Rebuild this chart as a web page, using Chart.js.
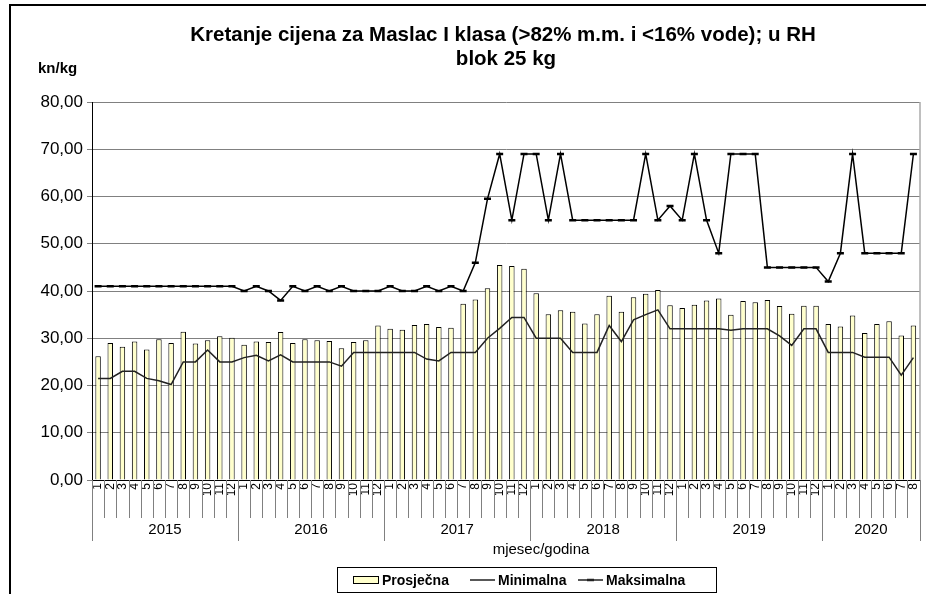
<!DOCTYPE html>
<html>
<head>
<meta charset="utf-8">
<script src="https://cdn.jsdelivr.net/npm/chart.js@4.4.1/dist/chart.umd.min.js"></script>
<style>
  html, body { margin: 0; padding: 0; background: #fff; }
  #wrap { width: 926px; height: 594px; }
</style>
</head>
<body>
<div id="wrap"><canvas id="grafico" width="926" height="594"></canvas></div>
<script>
// podaci ocitani s grafikona (kn/kg)
const godine = ["2015", "2016", "2017", "2018", "2019", "2020"];
const mjeseciPoGodini = [12, 12, 12, 12, 12, 8];

const prosjecna = [
  26.2, 29.0, 28.2, 29.3, 27.6, 29.8, 29.0, 31.4, 28.9, 29.6, 30.4, 30.1,
  28.6, 29.3, 29.2, 31.3, 29.0, 29.8, 29.6, 29.4, 27.9, 29.2, 29.6, 32.7,
  32.0, 31.8, 32.8, 33.0, 32.4, 32.2, 37.3, 38.2, 40.6, 45.5, 45.3, 44.7,
  39.5, 35.1, 35.9, 35.6, 33.1, 35.1, 39.0, 35.6, 38.7, 39.4, 40.2, 37.0,
  36.4, 37.1, 38.0, 38.4, 35.0, 37.9, 37.6, 38.1, 36.8, 35.2, 36.9, 36.9,
  33.0, 32.5, 34.8, 31.1, 33.0, 33.6, 30.6, 32.7
];

const minimalna = [
  21.5, 21.5, 23, 23, 21.5, 21, 20.2, 25, 25, 27.5, 25, 25,
  25.9, 26.4, 25.2, 26.5, 25, 25, 25, 25, 24.1, 27, 27, 27,
  27, 27, 27, 25.6, 25.2, 27, 27, 27, 30, 32.1, 34.4, 34.4,
  30, 30, 30, 27, 27, 27, 32.7, 29.3, 33.9, 35, 36, 32,
  32, 32, 32, 32, 31.7, 32, 32, 32, 30.5, 28.5, 32, 32,
  27, 27, 27, 26, 26, 26, 22.2, 25.9
];

const maksimalna = [
  41, 41, 41, 41, 41, 41, 41, 41, 41, 41, 41, 41,
  40, 41, 40, 38, 41, 40, 41, 40, 41, 40, 40, 40,
  41, 40, 40, 41, 40, 41, 40, 46, 59.5, 69, 55, 69,
  69, 55, 69, 55, 55, 55, 55, 55, 55, 69, 55, 58,
  55, 69, 55, 48, 69, 69, 69, 45, 45, 45, 45, 45,
  42, 48, 69, 48, 48, 48, 48, 69
];

// oznake mjeseci 1..12 za svaku godinu
const mjeseci = [];
mjeseciPoGodini.forEach((n) => {
  for (let m = 1; m <= n; m++) mjeseci.push(String(m));
});

const FONT = '"Liberation Sans", Arial, sans-serif';

const okvirPlugin = {
  id: "okvir",
  afterDraw(chart) {
    const ctx = chart.ctx;
    const xs = chart.scales.x;
    const area = chart.chartArea;
    const n = mjeseci.length;

    ctx.save();

    // desni rub podrucja crtanja
    ctx.strokeStyle = "#808080";
    ctx.lineWidth = 1;
    ctx.beginPath();
    ctx.moveTo(area.right + 0.5, area.top);
    ctx.lineTo(area.right + 0.5, area.bottom);
    ctx.stroke();

    // razdjelnice mjeseci i godina ispod osi
    const granica = (b) => {
      if (b === 0) return area.left;
      if (b === n) return area.right;
      return (xs.getPixelForValue(b - 1) + xs.getPixelForValue(b)) / 2;
    };
    const pocetciGodina = [0];
    mjeseciPoGodini.forEach((m, i) => pocetciGodina.push(pocetciGodina[i] + m));

    ctx.strokeStyle = "#808080";
    for (let b = 0; b <= n; b++) {
      const xb = Math.round(granica(b)) + 0.5;
      const dugacka = pocetciGodina.includes(b);
      ctx.beginPath();
      ctx.moveTo(xb, area.bottom);
      ctx.lineTo(xb, dugacka ? 541 : 518);
      ctx.stroke();
    }

    // godine
    ctx.fillStyle = "#000";
    ctx.font = "15px " + FONT;
    ctx.textAlign = "center";
    ctx.textBaseline = "middle";
    godine.forEach((g, i) => {
      const a = pocetciGodina[i];
      const z = pocetciGodina[i + 1] - 1;
      const cx = (xs.getPixelForValue(a) + xs.getPixelForValue(z)) / 2;
      ctx.fillText(g, cx, 530);
    });

    // naslov osi x
    ctx.fillText("mjesec/godina", 541, 550);

    // naslov
    ctx.font = "bold 20.5px " + FONT;
    ctx.fillText("Kretanje cijena za Maslac I klasa (>82% m.m. i <16% vode); u RH", 503, 35);
    ctx.fillText("blok 25 kg", 506, 59);

    // jedinica
    ctx.font = "bold 15px " + FONT;
    ctx.textAlign = "left";
    ctx.fillText("kn/kg", 38, 69);

    // legenda
    ctx.strokeStyle = "#000";
    ctx.lineWidth = 1;
    ctx.strokeRect(337.5, 567.5, 379, 25);
    ctx.fillStyle = "#FFFFCC";
    ctx.fillRect(353.5, 576.5, 25, 7);
    ctx.strokeRect(353.5, 576.5, 25, 7);

    ctx.strokeStyle = "#222";
    ctx.lineWidth = 1.5;
    ctx.beginPath();
    ctx.moveTo(470, 580);
    ctx.lineTo(495, 580);
    ctx.moveTo(578, 580);
    ctx.lineTo(603, 580);
    ctx.stroke();
    ctx.lineWidth = 2.5;
    ctx.beginPath();
    ctx.moveTo(587, 580);
    ctx.lineTo(594, 580);
    ctx.stroke();

    ctx.fillStyle = "#000";
    ctx.font = "bold 14px " + FONT;
    ctx.fillText("Prosječna", 382, 581);
    ctx.fillText("Minimalna", 498, 581);
    ctx.fillText("Maksimalna", 606, 581);

    // vanjski okvir
    ctx.strokeStyle = "#000";
    ctx.lineWidth = 2;
    ctx.beginPath();
    ctx.moveTo(10, 600);
    ctx.lineTo(10, 5);
    ctx.lineTo(930, 5);
    ctx.stroke();

    ctx.restore();
  },
};

new Chart(document.getElementById("grafico"), {
  type: "bar",
  data: {
    labels: mjeseci,
    datasets: [
      {
        type: "line",
        label: "Maksimalna",
        data: maksimalna,
        borderColor: "#000",
        borderWidth: 1.5,
        pointStyle: "line",
        pointRadius: 3.5,
        pointBorderWidth: 2.5,
        pointBorderColor: "#000",
        tension: 0,
        order: 1,
      },
      {
        type: "line",
        label: "Minimalna",
        data: minimalna,
        borderColor: "#222",
        borderWidth: 1.5,
        pointRadius: 0,
        tension: 0,
        order: 2,
      },
      {
        label: "Prosječna",
        data: prosjecna,
        backgroundColor: "#FFFFCC",
        borderColor: "#000",
        borderWidth: 1,
        barPercentage: 0.45,
        categoryPercentage: 1,
        order: 3,
      },
    ],
  },
  options: {
    responsive: false,
    animation: false,
    layout: { padding: { left: 10, right: 4, top: 102, bottom: 0 } },
    plugins: {
      legend: { display: false },
      tooltip: { enabled: false },
    },
    scales: {
      y: {
        min: 0,
        max: 80,
        ticks: {
          stepSize: 10,
          color: "#000",
          font: { family: FONT, size: 17 },
          padding: 4,
          callback: (v) => v.toFixed(2).replace(".", ","),
        },
        grid: { color: "#808080", tickLength: 5 },
        border: { color: "#000" },
        afterFit: (s) => { s.width = 82; },
      },
      x: {
        ticks: {
          color: "#000",
          font: { family: FONT, size: 12 },
          minRotation: 90,
          maxRotation: 90,
          autoSkip: false,
          padding: 3,
        },
        grid: { drawOnChartArea: false, drawTicks: false },
        border: { color: "#000" },
        afterFit: (s) => {
          s.height = 114;
          s.paddingLeft = 0;
          s.paddingRight = 0;
        },
      },
    },
  },
  plugins: [okvirPlugin],
});
</script>
</body>
</html>
